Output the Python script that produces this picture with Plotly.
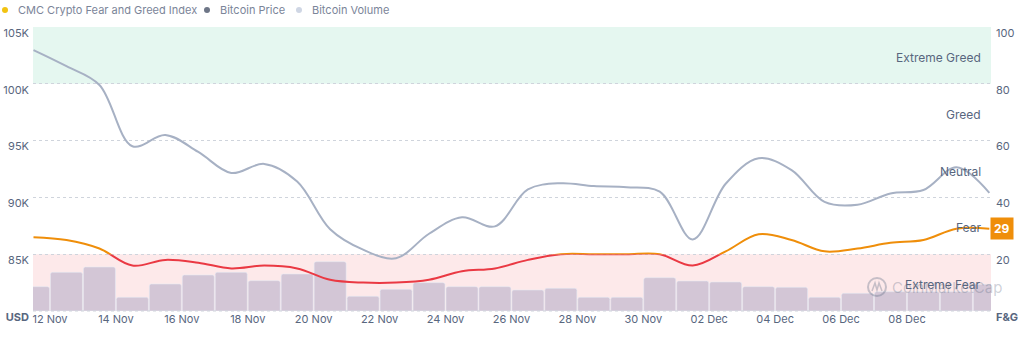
import plotly.graph_objects as go

# ---------------- data ----------------
dates = ['12 Nov', '13 Nov', '14 Nov', '15 Nov', '16 Nov', '17 Nov', '18 Nov', '19 Nov',
         '20 Nov', '21 Nov', '22 Nov', '23 Nov', '24 Nov', '25 Nov', '26 Nov', '27 Nov',
         '28 Nov', '29 Nov', '30 Nov', '01 Dec', '02 Dec', '03 Dec', '04 Dec', '05 Dec',
         '06 Dec', '07 Dec', '08 Dec', '09 Dec', '10 Dec', '11 Dec']

tick_labels = ['12 Nov', '14 Nov', '16 Nov', '18 Nov', '20 Nov', '22 Nov', '24 Nov',
               '26 Nov', '28 Nov', '30 Nov', '02 Dec', '04 Dec', '06 Dec', '08 Dec']

btc_price = [102970, 101550, 99900, 94500, 95500, 94000, 92150, 92950,
             91400, 87200, 85400, 84640, 86800, 88250, 87450, 90700,
             91250, 91000, 90900, 90500, 86300, 91200, 93450, 92400,
             89600, 89350, 90350, 90650, 92650, 90400]

fear_greed = [26, 25, 22, 16, 18, 17, 15, 16, 15, 11, 10, 10, 11, 14, 15, 18,
              20, 20, 20, 20, 16, 21, 27, 25, 21, 22, 24, 25, 29, 29]

btc_volume_bn = [48.6, 77.4, 88.0, 27.4, 54.0, 72.0, 77.4, 60.6, 74.0, 98.6,
                 29.4, 43.4, 56.6, 48.6, 48.6, 42.0, 45.4, 27.4, 27.4, 66.6,
                 60.0, 58.0, 48.6, 47.4, 27.4, 35.4, 38.6, 38.6, 38.6, 53.4]

price_ticks = [80000, 85000, 90000, 95000, 100000, 105000]
price_tick_text = ['<b>USD</b>', '85K', '90K', '95K', '100K', '105K']
fg_ticks = [0, 20, 40, 60, 80, 100]
fg_tick_text = ['<b>F&amp;G</b>', '20', '40', '60', '80', '100']
zone_names = ['Extreme Fear', 'Fear', 'Neutral', 'Greed', 'Extreme Greed']
zone_levels = [10, 30, 50, 70, 90]
legend_names = ['CMC Crypto Fear and Greed Index', 'Bitcoin Price', 'Bitcoin Volume']

# ---------------- styling ----------------
FONT = 'Inter, Roboto, Arial, sans-serif'
TXT = '#58667e'
ORANGE = '#ef8e0a'
RED = '#ea3943'
PRICE_C = '#a7b1c4'
BAR_C = '#d3c6d6'
GRID_C = '#cfd4dc'
W, H = 1024, 345
ML, MR, MT, MB = 33, 33, 27, 34
PW, PH = W - ML - MR, H - MT - MB


def px_x(px):
    return (px - ML) / PW


def px_y(py):
    return (H - MB - py) / PH


x = list(range(len(dates)))

fig = go.Figure()

fig.add_trace(go.Bar(x=x, y=btc_volume_bn, yaxis='y3', marker=dict(color=BAR_C, cornerradius=2),
                     name='Bitcoin Volume', customdata=dates, showlegend=False,
                     hovertemplate='%{customdata}<br>%{y:.1f}B<extra></extra>'))

fig.add_trace(go.Scatter(x=x, y=btc_price, yaxis='y', mode='lines',
                         line=dict(color=PRICE_C, width=2, shape='spline', smoothing=1),
                         name='Bitcoin Price', customdata=dates, showlegend=False,
                         hovertemplate='%{customdata}<br>$%{y:,.0f}<extra></extra>'))

# F&G line: orange part (>=20) and red part (<20) via clipped sub-axes
fig.add_trace(go.Scatter(x=x, y=fear_greed, yaxis='y5', mode='lines',
                         line=dict(color=ORANGE, width=2, shape='spline', smoothing=1),
                         name='CMC Crypto Fear and Greed Index', customdata=dates, showlegend=False,
                         hovertemplate='%{customdata}<br>%{y}<extra></extra>'))
fig.add_trace(go.Scatter(x=x, y=fear_greed, yaxis='y4', mode='lines',
                         line=dict(color=RED, width=2, shape='spline', smoothing=1),
                         name='CMC Crypto Fear and Greed Index', customdata=dates, showlegend=False,
                         hoverinfo='skip'))

tickvals = [dates.index(t) + 0.5 for t in tick_labels]

fig.update_layout(
    width=W, height=H,
    margin=dict(l=ML, r=MR, t=MT, b=MB, pad=0, autoexpand=False),
    paper_bgcolor='white', plot_bgcolor='rgba(0,0,0,0)',
    font=dict(family=FONT, color=TXT, size=11),
    showlegend=False, bargap=0.03,
    xaxis=dict(range=[-0.015, 29.05], tickvals=tickvals, ticktext=tick_labels,
               showgrid=False, zeroline=False, showline=False, ticks='', automargin=False,
               tickfont=dict(size=11, color=TXT), fixedrange=True),
    yaxis=dict(range=[80000, 105000], tickvals=price_ticks, ticktext=price_tick_text,
               showgrid=True, gridcolor=GRID_C, griddash='dot', gridwidth=1,
               zeroline=False, showline=False, ticks='', ticklabelshift=6,
               ticklabelstandoff=3, automargin=False, tickfont=dict(size=11, color=TXT)),
    yaxis2=dict(range=[0, 100], overlaying='y', side='right', tickvals=fg_ticks,
                ticktext=fg_tick_text, showgrid=False, zeroline=False, showline=False,
                ticks='', ticklabelshift=6, ticklabelstandoff=4, automargin=False,
                tickfont=dict(size=11, color=TXT)),
    yaxis3=dict(range=[0, 568], overlaying='y', visible=False, showgrid=False, zeroline=False),
    yaxis4=dict(range=[0, 20], domain=[0, 0.2], anchor='x', visible=False,
                showgrid=False, zeroline=False),
    yaxis5=dict(range=[20, 100], domain=[0.2, 1], anchor='x', visible=False,
                showgrid=False, zeroline=False),
)

# background zones
fig.add_shape(type='rect', xref='paper', yref='y2', x0=0, x1=1, y0=80, y1=100,
              fillcolor='#e5f7f0', line_width=0, layer='below')
fig.add_shape(type='rect', xref='paper', yref='y2', x0=0, x1=1, y0=0, y1=20,
              fillcolor='#fde9ea', line_width=0, layer='below')
# dotted baseline drawn over the bars
fig.add_shape(type='line', xref='paper', yref='paper', x0=0, x1=1, y0=0, y1=0,
              line=dict(color=GRID_C, width=1, dash='dot'), layer='above')

# watermark
WM = 'rgba(88,102,126,0.33)'
fig.add_shape(type='circle', xref='paper', yref='paper',
              x0=px_x(868), x1=px_x(886), y0=px_y(296), y1=px_y(278),
              line=dict(color=WM, width=2), layer='above')
fig.add_shape(type='path', xref='paper', yref='paper',
              path='M %f %f L %f %f L %f %f L %f %f L %f %f' % (
                  px_x(872), px_y(291), px_x(875), px_y(283), px_x(877), px_y(290),
                  px_x(879), px_y(283), px_x(882), px_y(291)),
              line=dict(color=WM, width=1.5), layer='above')
fig.add_annotation(xref='paper', yref='paper', x=px_x(890), y=px_y(287), xanchor='left',
                   yanchor='middle', text='CoinMarketCap', showarrow=False,
                   font=dict(size=15, color='rgba(88,102,126,0.3)', family=FONT))

# zone labels
for name, lvl in zip(zone_names, zone_levels):
    fig.add_annotation(xref='paper', yref='y2', x=px_x(983), y=lvl, xanchor='right',
                       yanchor='middle', yshift=-2, text=name, showarrow=False,
                       font=dict(size=12, color=TXT, family=FONT))

# current value badge
fig.add_annotation(xref='paper', yref='y2', x=px_x(1002), y=fear_greed[-1],
                   xanchor='center', yanchor='middle', text='<b>%d</b>' % fear_greed[-1],
                   showarrow=False, bgcolor=ORANGE, borderpad=3,
                   font=dict(size=12, color='white', family=FONT))

# legend (top-left)
legend_colors = ['#f2c312', '#6e7687', '#cfd6e4']
legend_x = [5, 207, 299]
for name, col, lx in zip(legend_names, legend_colors, legend_x):
    fig.add_shape(type='circle', xref='paper', yref='paper',
                  x0=px_x(lx - 3), x1=px_x(lx + 3), y0=px_y(13), y1=px_y(7),
                  fillcolor=col, line_width=0)
    fig.add_annotation(xref='paper', yref='paper', x=px_x(lx + 11), y=px_y(10),
                       xanchor='left', yanchor='middle', text=name, showarrow=False,
                       font=dict(size=11, color='#7b8599', family=FONT))

fig.write_html('out.html')
